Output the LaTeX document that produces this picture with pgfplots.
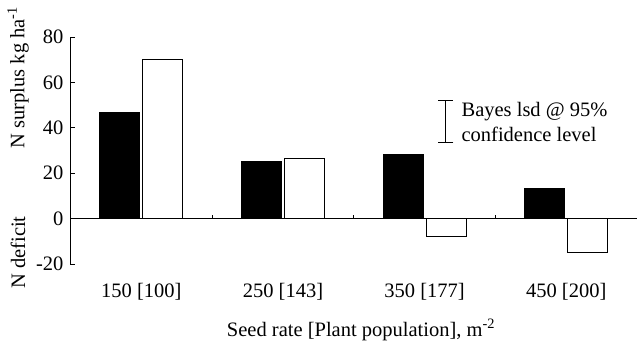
\documentclass[border=0pt]{standalone}
\usepackage{fontspec}
\setmainfont{Liberation Serif}
\usepackage{pgfplots}
\pgfplotsset{compat=1.18}
\begin{document}
\fontsize{20.5bp}{24bp}\selectfont
\begin{tikzpicture}
\begin{axis}[
  scale only axis,
  width=566.5bp, height=227bp,
  xmin=0.5, xmax=4.5, ymin=-20, ymax=80,
  axis y line*=left,
  axis x line*=bottom,
  x axis line style={draw=none},
  y axis line style={line width=0.8bp},
  xtick={1,2,3,4},
  xticklabels={150 [100],250 [143],350 [177],450 [200]},
  xticklabel style={yshift=-12bp},
  x tick style={draw=none},
  ytick={-20,0,20,40,60,80},
  yticklabels={-20,0,20,40,60,80},
  tick align=inside,
  y tick style={line width=0.8bp, black},
  major tick length=5bp,
  clip=false,
]
\addplot[ybar, bar width=40bp, bar shift=-21.5bp, fill=black, draw=black, line width=0.8bp]
  coordinates {(1,46.6) (2,25) (3,28.1) (4,13.3)};
\addplot[ybar, bar width=40bp, bar shift=21.5bp, fill=white, draw=black, line width=0.8bp]
  coordinates {(1,70.3) (2,26.4) (3,-7.9) (4,-15)};
\draw[line width=0.8bp] (axis cs:0.5,0) -- (axis cs:4.5,0);
\draw[line width=0.8bp] (axis cs:1.5,0) -- (axis cs:1.5,1.8);
\draw[line width=0.8bp] (axis cs:2.5,0) -- (axis cs:2.5,1.8);
\draw[line width=0.8bp] (axis cs:3.5,0) -- (axis cs:3.5,1.8);
\addplot[black, mark=none, forget plot,
  error bars/.cd, y dir=both, y explicit,
  error bar style={line width=0.8bp, solid, black},
  error mark options={rotate=90, mark size=7.5bp, line width=0.8bp, black}]
  coordinates {(3.15,42.7) +- (0,9.3)};
\node[anchor=west, align=left, inner sep=0pt, font=\fontsize{20.5bp}{25bp}\selectfont] at (axis cs:3.26,42.7)
  {Bayes lsd @ 95\%\\confidence level};
\end{axis}
\node[rotate=90] at (-52.5bp,186.5bp) {N surplus kg ha\textsuperscript{-1}};
\node[rotate=90] at (-52.5bp,11.5bp) {N deficit};
\node at (290.5bp,-66bp) {Seed rate [Plant population], m\textsuperscript{-2}};
\pgfresetboundingbox
\path (-70.5bp,-84bp) rectangle (566.5bp,264bp);
\end{tikzpicture}
\end{document}
